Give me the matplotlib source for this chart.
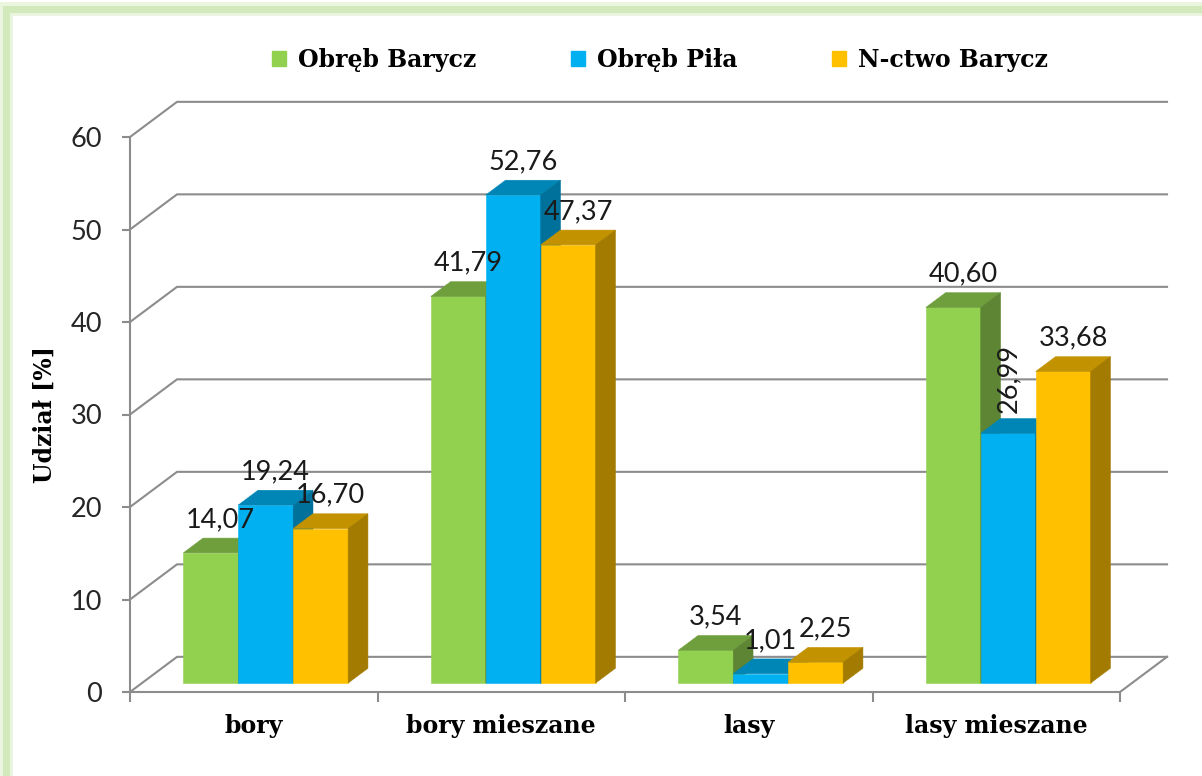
import numpy as np
import matplotlib.pyplot as plt
from matplotlib.colors import to_rgb
from matplotlib.patches import Patch, Rectangle

categories = ['bory', 'bory mieszane', 'lasy', 'lasy mieszane']
series = ['Obręb Barycz', 'Obręb Piła', 'N-ctwo Barycz']
barycz = [14.07, 41.79, 3.54, 40.60]
pila = [19.24, 52.76, 1.01, 26.99]
nctwo = [16.70, 47.37, 2.25, 33.68]
y_ticks = [0, 10, 20, 30, 40, 50, 60]

colors = ['#92D050', '#00B0F0', '#FFC000']
grid_color = '#8c8c8c'
# labels Excel turned on its side
rotated = {(3, 1)}

# fake 3D: depth vector in data units (x in categories, y in percent)
DX, DY = 0.19, 3.8
T0, T1 = 0.255, 0.675   # depth range taken by the bars
BW = 0.222               # bar width

serif = dict(family='DejaVu Serif', weight='bold', size=17)
sans = dict(family='Lato', size=19.5)


def shade(c, f):
	r, g, b = to_rgb(c)
	return (r * f, g * f, b * f)


def fmt(v):
	return f'{v:.2f}'.replace('.', ',')


def main():
	fig = plt.figure(figsize=(12.02, 7.76), dpi=100)
	ax = fig.add_axes([130 / 1202, 84 / 776, 990 / 1202, 555 / 776])
	ax.set_xlim(0, len(categories))
	ax.set_ylim(0, y_ticks[-1])

	# back wall, left wall and floor
	xr = len(categories)
	for v in y_ticks:
		ax.plot([0, DX, xr + DX], [v, v + DY, v + DY], color=grid_color,
		        lw=1.5, clip_on=False, zorder=1, solid_joinstyle='miter')
	ax.plot([xr, xr + DX], [0, DY], color=grid_color, lw=1.5, clip_on=False, zorder=1)

	dx = (T1 - T0) * DX
	dy = (T1 - T0) * DY
	y0 = T0 * DY
	for j, vals in enumerate([barycz, pila, nctwo]):
		c = colors[j]
		x = np.arange(len(categories)) + 0.5 + (j - 1.5) * BW + T0 * DX
		ax.bar(x, vals, width=BW, bottom=y0, align='edge', color=c,
		       edgecolor=c, lw=0.4, zorder=3 + j)
		for i, v in enumerate(vals):
			xl, xr_ = x[i], x[i] + BW
			top = y0 + v
			ax.fill([xl, xr_, xr_ + dx, xl + dx], [top, top, top + dy, top + dy],
			        color=shade(c, 0.76), lw=0.4, zorder=3 + j)
			ax.fill([xr_, xr_ + dx, xr_ + dx, xr_], [y0, y0 + dy, top + dy, top],
			        color=shade(c, 0.64), lw=0.4, zorder=3 + j)
			if (i, j) in rotated:
				ax.text(xl + BW / 2, top + dy + 0.6, fmt(v), rotation=90,
				        ha='center', va='bottom', color='#1a1a1a', zorder=10, **sans)
			else:
				ax.text(xl + BW / 2 + dx / 2, top + 3.6, fmt(v), ha='center',
				        va='center', color='#1a1a1a', zorder=10, clip_on=False, **sans)

	ax.set_yticks(y_ticks)
	ax.set_yticklabels([str(t) for t in y_ticks], color='#262626', **sans)
	ax.tick_params(axis='y', length=6, width=1.5, color=grid_color, pad=14)
	ax.set_xticks(np.arange(len(categories)) + 0.5)
	ax.set_xticklabels(categories, color='black', **serif)
	ax.tick_params(axis='x', which='major', length=0, pad=16)
	ax.set_xticks(np.arange(len(categories) + 1), minor=True)
	ax.tick_params(axis='x', which='minor', length=7.5, width=1.5, color=grid_color)

	for s in ['top', 'right']:
		ax.spines[s].set_visible(False)
	for s in ['left', 'bottom']:
		ax.spines[s].set_color(grid_color)
		ax.spines[s].set_linewidth(1.5)

	ax.set_ylabel('Udział [%]', va='center', **serif)
	ax.yaxis.set_label_coords((45 - 130) / 990, 0.5)

	handles = [Patch(color=c, label=s) for c, s in zip(colors, series)]
	fig.legend(handles=handles, loc='center', bbox_to_anchor=(660 / 1202, 1 - 60 / 776),
	           ncol=3, frameon=False, prop=serif, handlelength=0.6, handleheight=0.6,
	           handletextpad=0.5, columnspacing=4.0)

	# light green frame (only left and top edges are inside the picture)
	fig.patches.append(Rectangle((6 / 1202, -0.5), 2, 1.5 - 9 / 776, transform=fig.transFigure,
	                             fill=False, edgecolor='#eaf5df', lw=10))
	fig.patches.append(Rectangle((6 / 1202, -0.5), 2, 1.5 - 9 / 776, transform=fig.transFigure,
	                             fill=False, edgecolor='#d2e9bb', lw=5))

	fig.savefig('out.png', dpi=100)


if __name__ == '__main__':
	main()
